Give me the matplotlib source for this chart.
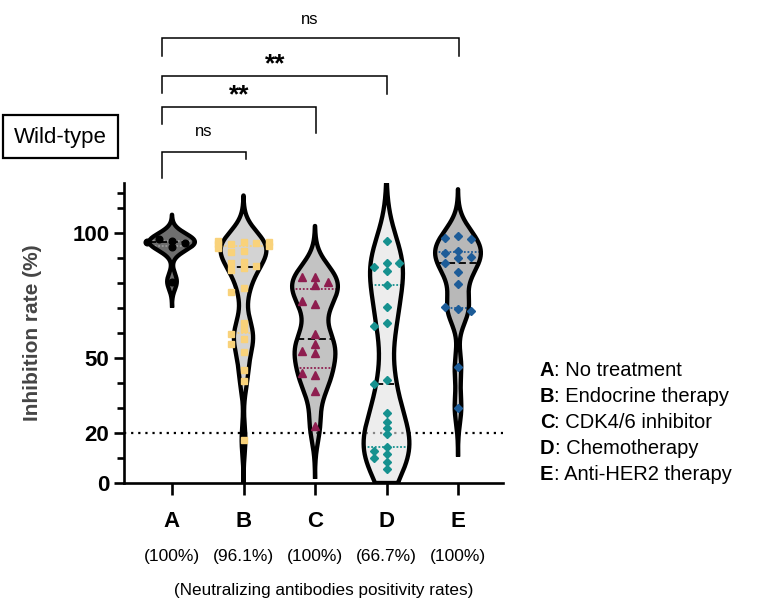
import numpy as np
import matplotlib
matplotlib.use("Agg")
import matplotlib.pyplot as plt
from matplotlib.patches import Rectangle

plt.rcParams['font.family'] = ['Liberation Sans', 'DejaVu Sans']

# ---------------- data ----------------
categories = ["A", "B", "C", "D", "E"]
positivity = ["(100%)", "(96.1%)", "(100%)", "(66.7%)", "(100%)"]
legend_names = ["No treatment", "Endocrine therapy", "CDK4/6 inhibitor",
                "Chemotherapy", "Anti-HER2 therapy"]

group_A = [97.0, 97.7, 96.0, 94.6, 96.6, 80.6]
group_B = [96.5, 95.5, 96.0, 97.0, 95.0, 96.5, 93.0, 92.5, 94.0, 95.5,
           88.5, 88.0, 86.0, 87.0, 85.3,
           78.0, 76.5,
           64.0, 61.5, 59.5, 57.5, 55.5, 52.5,
           45.3, 40.7, 17.3]
group_C = [82.4, 82.4, 79.3, 80.3, 71.7, 72.7, 59.7, 55.6, 52.2, 53.0,
           43.3, 44.0, 37.0, 22.9]
group_D = [97.0, 88.2, 86.4, 88.2, 84.9, 79.3, 70.6, 64.2, 63.0, 41.3, 39.7,
           28.0, 24.4, 22.0, 19.6, 14.6, 13.0, 11.7, 10.0, 8.6, 5.6]
group_E = [99.0, 98.2, 97.7, 92.9, 92.2, 90.0, 90.4, 88.0, 84.6, 79.6,
           69.6, 70.4, 68.7, 46.3, 30.0]
groups = [group_A, group_B, group_C, group_D, group_E]

bandwidths = [3.2, 6.0, 6.8, 11.0, 6.2]
fill_colors = ["#0e0e0e", "#b6b6b6", "#9c9c9c", "#e2e2e2", "#8a8a8a"]
point_colors = ["#000000", "#f9d27a", "#8e1d4f", "#16918f", "#1d5c98"]
quart_colors = ["#9a9a9a", "#f9d27a", "#8e1d4f", "#16918f", "#1d5c98"]
markers = ["o", "s", "^", "D", "D"]
msizes = [4.8, 4.6, 5.2, 3.6, 3.6]

threshold = 20
ymax = 120

# ---------------- figure ----------------
W, H = 759, 607
fig = plt.figure(figsize=(W / 100, H / 100), dpi=100)
ax_left, ax_right, ax_bot, ax_top = 124, 503, 483, 183
ax = fig.add_axes([ax_left / W, 1 - ax_bot / H, (ax_right - ax_left) / W, (ax_bot - ax_top) / H])
xpx0, xstep = 172, 71.5
ax.set_xlim((ax_left - xpx0) / xstep, (ax_right - xpx0) / xstep)
ax.set_ylim(0, ymax)

max_hw = 0.32
ygrid = np.linspace(0, ymax, 1201)


def kde(vals, bw, y):
    v = np.asarray(vals)[:, None]
    return np.exp(-0.5 * ((y[None, :] - v) / bw) ** 2).sum(axis=0)


def swarm(vals, dx, thr):
    placed = []
    offs = []
    for v in vals:
        best, best_d = 0.0, -1
        for k in [0, -1, 1, -2, 2]:
            o = k * dx
            ds = [abs(v - pv) for pv, po in placed if abs(o - po) < 1e-9]
            dmin = min(ds) if ds else 1e9
            if dmin >= thr:
                best = o
                break
            if dmin > best_d:
                best, best_d = o, dmin
        placed.append((v, best))
        offs.append(best)
    return np.array(offs)


for i, vals in enumerate(groups):
    bw = bandwidths[i]
    lo = max(0, min(vals) - 3 * bw)
    hi = min(ymax, max(vals) + 3 * bw)
    y = ygrid[(ygrid >= lo) & (ygrid <= hi)]
    d = kde(vals, bw, y)
    dmax = kde(vals, bw, ygrid).max()
    hw = max_hw * d / dmax
    ax.fill_betweenx(y, i - hw, i + hw, facecolor=fill_colors[i], alpha=0.6,
                     edgecolor="none", zorder=2)
    xs = np.concatenate([i + hw, (i - hw)[::-1], [i + hw[0]]])
    ys = np.concatenate([y, y[::-1], [y[0]]])
    ax.plot(xs, ys, color="black", lw=3.1, solid_joinstyle="round", zorder=4,
            clip_on=True)
    # median & quartiles
    q1, med, q3 = np.percentile(vals, [25, 50, 75])
    for q, style, col in [(q1, (0, (1, 1)), quart_colors[i]),
                          (q3, (0, (1, 1)), quart_colors[i]),
                          (med, (0, (4, 2)), "black")]:
        w = max_hw * kde(vals, bw, np.array([q]))[0] / dmax
        ax.plot([i - w, i + w], [q, q], color=col, lw=1.3, ls=style, zorder=3)
    # points
    offs = swarm(vals, 0.175, 2.3)
    ax.plot(i + offs, vals, ls="none", marker=markers[i], ms=msizes[i],
            mfc=point_colors[i], mec=point_colors[i], zorder=5)

# threshold line
ax.axhline(threshold, color="black", lw=1.6, ls=(0, (1, 2.2)), zorder=1)

# axes styling
for s in ["top", "right"]:
    ax.spines[s].set_visible(False)
for s in ["left", "bottom"]:
    ax.spines[s].set_linewidth(1.9)
ax.set_yticks([0, 20, 50, 100])
ax.set_yticklabels(["0", "20", "50", "100"], fontsize=16, fontweight="bold")
ax.set_yticks([10, 30, 40, 60, 70, 80, 90, 110, 116], minor=True)
ax.tick_params(axis="y", which="major", length=7.5, width=1.9, pad=3)
ax.tick_params(axis="y", which="minor", length=5, width=1.9)
ax.set_xticks(range(len(categories)))
ax.set_xticklabels(categories, fontsize=16, fontweight="bold")
ax.tick_params(axis="x", length=8.5, width=1.9, pad=12)
ax.set_ylabel("Inhibition rate (%)", fontsize=15, fontweight="bold",
              color="#454545", labelpad=22)

trans = ax.get_xaxis_transform()
for i, p in enumerate(positivity):
    ax.text(i, (ax_bot - 556) / (ax_bot - ax_top), p, transform=trans,
            ha="center", va="center", fontsize=12.5)

# ---------------- overlay in pixel coords ----------------
ov = fig.add_axes([0, 0, 1, 1])
ov.set_xlim(0, W)
ov.set_ylim(H, 0)
ov.axis("off")

ov.text(324, 590, "(Neutralizing antibodies positivity rates)", ha="center",
        va="center", fontsize=12.3)

brackets = [  # (x_left, x_right, y_top, y_left_end, y_right_end, label, label_x, label_y)
    (162, 459, 38, 56, 56, "ns", 310, 20),
    (162, 387, 76, 93, 94, "**", 275, 62),
    (162, 316, 107, 124, 133, "**", 239, 93),
    (162, 246, 152, 178, 159, "ns", 204, 132),
]
for xl, xr, yt, yl, yr, lab, lx, ly in brackets:
    ov.plot([xl, xl, xr, xr], [yl, yt, yt, yr], color="black", lw=1.1,
            solid_joinstyle="miter")
    if lab == "ns":
        ov.text(lx, ly, lab, ha="center", va="center", fontsize=12)
    else:
        ov.text(lx, ly + 2, lab, ha="center", va="center", fontsize=19,
                fontweight="bold")

ov.add_patch(Rectangle((3, 115), 115, 43, fill=False, lw=1.6, ec="black"))
ov.text(60.5, 137, "Wild-type", ha="center", va="center", fontsize=16)

for k, (c, name) in enumerate(zip(categories, legend_names)):
    yy = 370 + k * 26
    t = ov.text(540, yy, c, ha="left", va="center", fontsize=14.5,
                fontweight="bold")
    ov.annotate(": " + name, xy=(1, 0), xycoords=t, ha="left", va="bottom",
                fontsize=14.5)

fig.savefig("out.png", dpi=100)
